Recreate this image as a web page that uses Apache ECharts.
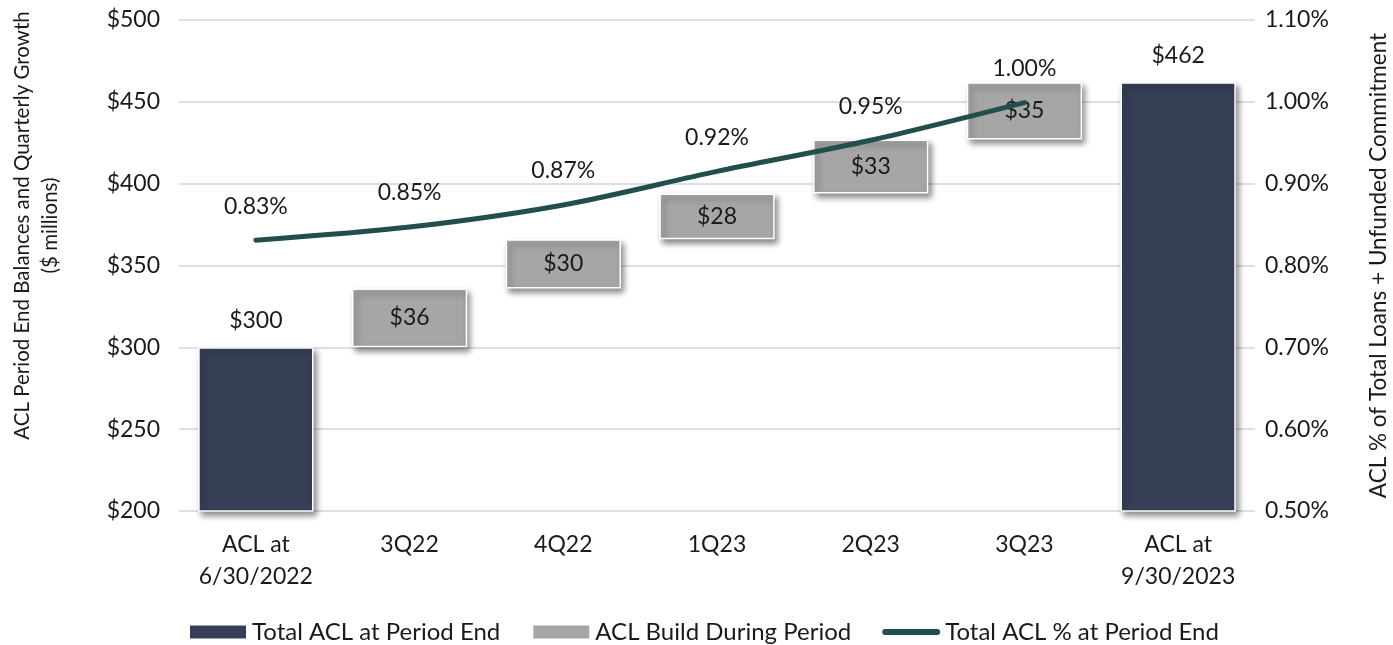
<!DOCTYPE html>
<html><head><meta charset="utf-8">
<script src="https://cdn.jsdelivr.net/npm/echarts@6/dist/echarts.min.js"></script>
<style>html,body{margin:0;padding:0;background:#fff}#c{width:1393px;height:645px}</style>
</head><body><div id="c"></div>
<script>
const categories = ['ACL at\n6/30/2022', '3Q22', '4Q22', '1Q23', '2Q23', '3Q23', 'ACL at\n9/30/2023'];
const startBalance = 300;
const endBalance = 462;
const quarterlyBuild = [36, 30, 28, 33, 35];
const aclPct = [0.831, 0.847, 0.874, 0.915, 0.953, 0.999];
const leftAxisRange = [200, 500, 50];
const rightAxisRange = [0.5, 1.1, 0.1];
const seriesNames = ['Total ACL at Period End', 'ACL Build During Period', 'Total ACL % at Period End'];

const n = categories.length;
const totalData = categories.map((c, i) => i === 0 ? startBalance : (i === n - 1 ? endBalance : '-'));
const baseData = ['-'];
const buildData = ['-'];
let run = startBalance;
quarterlyBuild.forEach(v => { baseData.push(run); buildData.push(v); run += v; });
baseData.push('-'); buildData.push('-');
const lineData = aclPct.concat(['-']);

const FONT = 'Lato';
const TXT = '#1a1a1a';
const FS = 23;
const shadow = { shadowColor: 'rgba(0,0,0,0.45)', shadowBlur: 6, shadowOffsetX: 3, shadowOffsetY: 4 };

const chart = echarts.init(document.getElementById('c'), null, { renderer: 'canvas' });
chart.setOption({
  animation: false,
  textStyle: { fontFamily: FONT, color: TXT },
  grid: { left: 179, right: 138, top: 20, bottom: 134, containLabel: false, outerBoundsMode: 'none' },
  legend: {
    left: 183, top: 615, padding: 5,
    itemWidth: 58, itemHeight: 15, itemGap: 31,
    textStyle: { fontFamily: FONT, fontSize: 24, color: TXT },
    data: [
      { name: seriesNames[0], icon: 'rect' },
      { name: seriesNames[1], icon: 'rect' },
      { name: seriesNames[2], icon: 'path://M3,0 L57,0 A3,3 0 0 1 57,6 L3,6 A3,3 0 0 1 3,0 Z' }
    ]
  },
  xAxis: {
    type: 'category', data: categories,
    axisLine: { show: false }, axisTick: { show: false },
    axisLabel: { fontFamily: FONT, fontSize: FS, color: TXT, lineHeight: 32, margin: 18, interval: 0 }
  },
  yAxis: [
    {
      type: 'value', min: leftAxisRange[0], max: leftAxisRange[1], interval: leftAxisRange[2],
      axisLine: { show: false }, axisTick: { show: false },
      axisLabel: { fontFamily: FONT, fontSize: FS, color: TXT, margin: 19, formatter: v => '$' + v },
      splitLine: { lineStyle: { color: '#dcdfe8', width: 2 } },
      name: 'ACL Period End Balances and Quarterly Growth\n($ millions)',
      nameLocation: 'middle', nameRotate: 90, nameGap: 115,
      nameTextStyle: { fontFamily: FONT, fontSize: 20.5, color: TXT, lineHeight: 28, padding: [0, 0, 0, 80] }
    },
    {
      type: 'value', min: rightAxisRange[0], max: rightAxisRange[1], interval: rightAxisRange[2],
      axisLine: { show: false }, axisTick: { show: false },
      axisLabel: { fontFamily: FONT, fontSize: FS, color: TXT, margin: 10, formatter: v => v.toFixed(2) + '%' },
      splitLine: { show: false },
      name: 'ACL % of Total Loans + Unfunded Commitment',
      nameLocation: 'middle', nameRotate: 90, nameGap: 112,
      nameTextStyle: { fontFamily: FONT, fontSize: 22.5, color: TXT }
    }
  ],
  series: [
    {
      name: 'base', type: 'bar', stack: 'w', data: baseData, barCategoryGap: '25%',
      itemStyle: { color: 'rgba(0,0,0,0)' }, emphasis: { disabled: true }, silent: true
    },
    {
      name: seriesNames[0], type: 'bar', stack: 'w', data: totalData,
      itemStyle: Object.assign({ color: '#363f56', borderColor: '#ffffff', borderWidth: 1.5 }, shadow),
      label: { show: true, position: 'top', distance: 15, fontFamily: FONT, fontSize: FS, color: TXT, formatter: p => '$' + p.value }
    },
    {
      name: seriesNames[1], type: 'bar', stack: 'w', data: buildData,
      itemStyle: Object.assign({ color: '#a6a6a6', borderColor: '#ffffff', borderWidth: 1.5 }, shadow),
      label: { show: true, position: 'inside', fontFamily: FONT, fontSize: FS, color: TXT, formatter: p => '$' + p.value }
    },
    {
      name: seriesNames[2], type: 'line', yAxisIndex: 1, data: lineData, z: 5,
      smooth: 0.3, symbol: 'circle', symbolSize: 1, showSymbol: true,
      lineStyle: { color: '#21504a', width: 5, cap: 'round' },
      itemStyle: { color: '#21504a' },
      label: { show: true, position: 'top', distance: 22, fontFamily: FONT, fontSize: FS, color: TXT, formatter: p => p.value.toFixed(2) + '%' },
      labelLayout: { hideOverlap: false }
    }
  ]
});
</script></body></html>
